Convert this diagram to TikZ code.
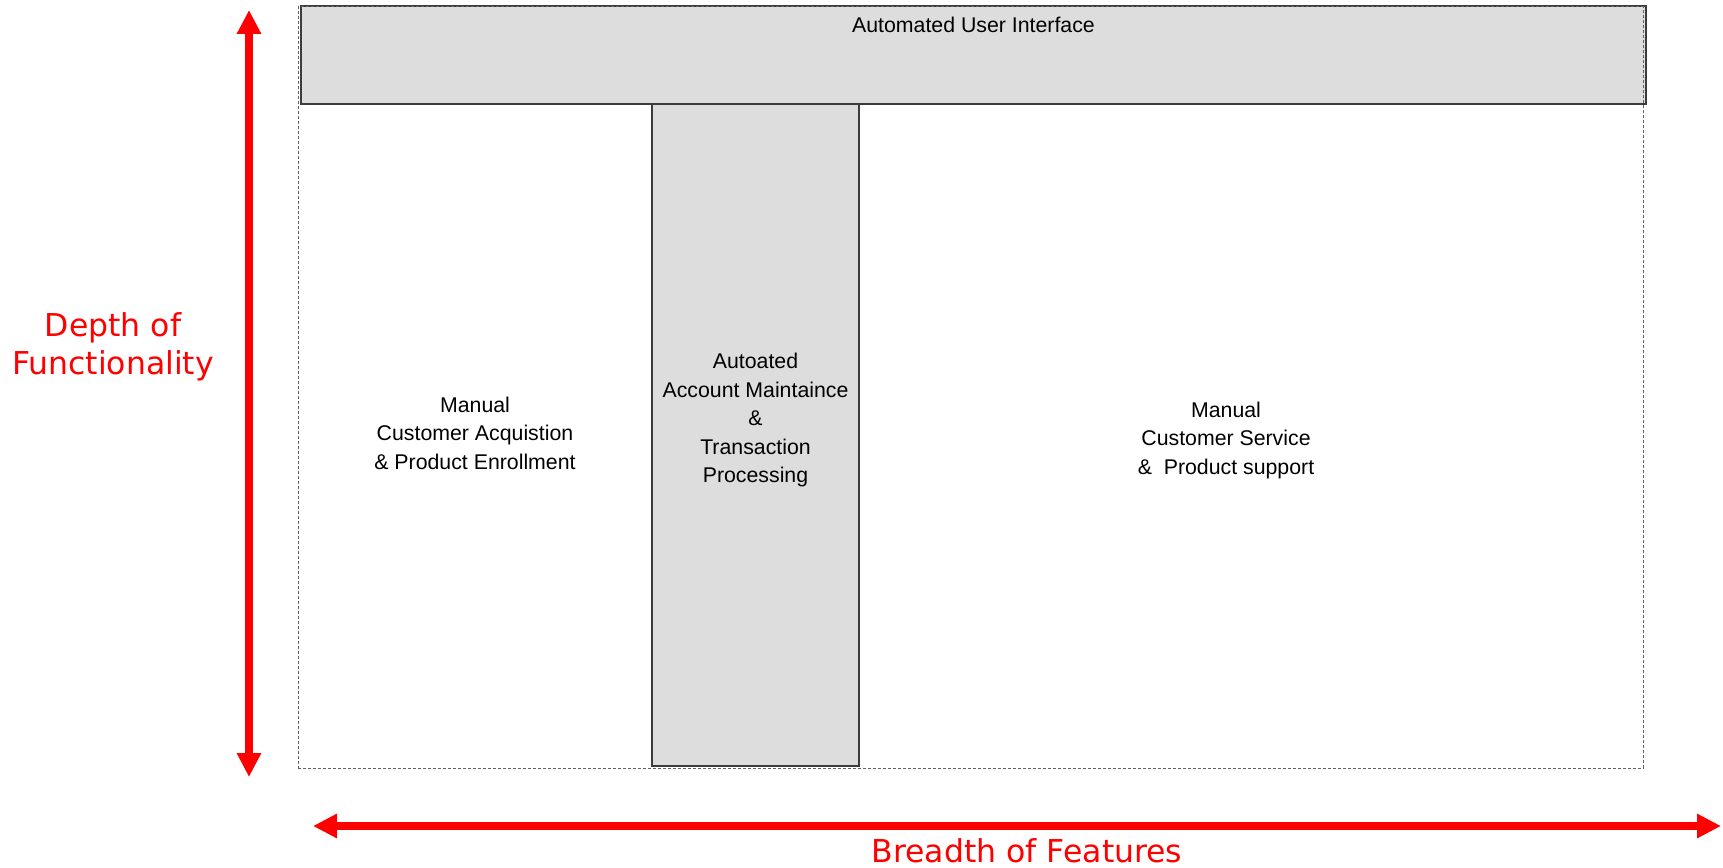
\documentclass[tikz,border=0pt]{standalone}
\usepackage{fontspec}
\setmainfont{Liberation Sans}
\newfontfamily\axisfont{DejaVu Sans}
\usetikzlibrary{arrows.meta}

\definecolor{panelgray}{RGB}{221,221,221}
\definecolor{edgegray}{RGB}{60,60,60}

\tikzset{
  panel/.style={draw=edgegray, line width=1.3pt, fill=panelgray,
    inner sep=0pt, outer sep=0pt, anchor=north west},
  region/.style={draw=edgegray!80, line width=1pt, dash pattern=on 3pt off 2pt},
  boxtext/.style={align=center, inner sep=0pt,
    font=\fontsize{21.3}{28.5}\selectfont},
  axislabel/.style={align=center, inner sep=0pt, text=red,
    font=\axisfont\fontsize{31.5}{38.5}\selectfont},
  axisarrow/.style={draw=red, line width=8pt,
    {Triangle[width=23pt,length=24pt]}-{Triangle[width=23pt,length=24pt]}},
}

\begin{document}
\begin{tikzpicture}[x=1pt,y=-1pt]
  \useasboundingbox (0,0) rectangle (1723,867);

  % automated interface bar and automated core column
  \node[panel, minimum width=1345pt, minimum height=98pt] (ui) at (301,6) {};
  \node[panel, minimum width=207pt, minimum height=662pt] (core) at (652,104) {};

  % overall scope of the system
  \node[region, inner sep=0pt, outer sep=0pt, anchor=north west,
        minimum width=1345pt, minimum height=761pt] (scope) at (298,7) {};

  % labels of the regions
  \node[boxtext] (uitext) at (973.5,25) {Automated User Interface};
  \node[boxtext] (left) at (475,433) {Manual\\Customer Acquistion\\\& Product Enrollment};
  \node[boxtext] (mid) at (755.5,420) {Autoated\\Account Maintaince\\\&\\Transaction\\Processing};
  \node[boxtext] (right) at (1226,440) {Manual\\Customer Service\\\&\ \ Product support};

  % axes
  \coordinate (vtop) at (249,10);
  \coordinate (vbot) at (249,777);
  \coordinate (hleft) at (313,826);
  \coordinate (hright) at (1721,826);
  \draw[axisarrow] (vtop) -- (vbot);
  \draw[axisarrow] (hleft) -- (hright);

  \node[axislabel] (depth) at (113,347) {Depth of\\Functionality};
  \node[axislabel, anchor=base] (breadth) at (1027,862) {Breadth of Features};
\end{tikzpicture}
\end{document}
